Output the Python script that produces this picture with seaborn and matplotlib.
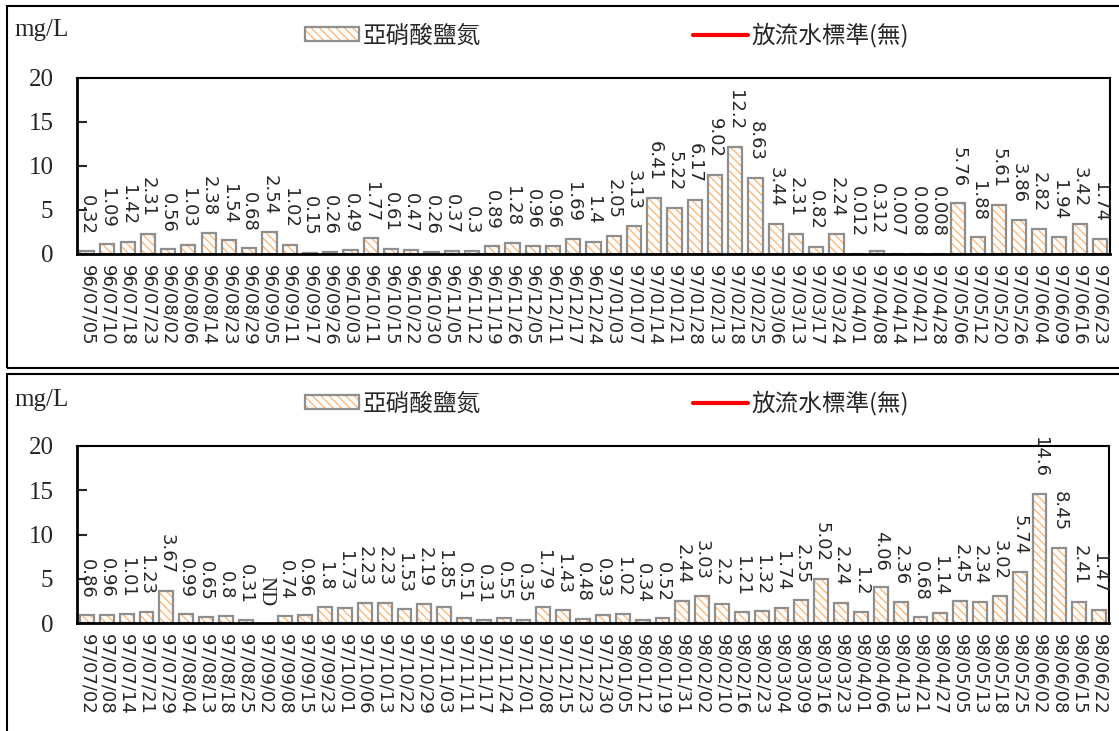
import numpy as np
import pandas as pd
import matplotlib.pyplot as plt
import seaborn as sns
from matplotlib.patches import Patch, Rectangle
from matplotlib.lines import Line2D
from matplotlib.font_manager import FontProperties

# data
dates_top = ["96/07/05", "96/07/10", "96/07/18", "96/07/23", "96/08/02", "96/08/06", "96/08/14",
             "96/08/23", "96/08/29", "96/09/05", "96/09/11", "96/09/17", "96/09/26", "96/10/03",
             "96/10/11", "96/10/15", "96/10/22", "96/10/30", "96/11/05", "96/11/12", "96/11/19",
             "96/11/26", "96/12/05", "96/12/11", "96/12/17", "96/12/24", "97/01/03", "97/01/07",
             "97/01/14", "97/01/21", "97/01/28", "97/02/13", "97/02/18", "97/02/25", "97/03/06",
             "97/03/13", "97/03/17", "97/03/24", "97/04/01", "97/04/08", "97/04/14", "97/04/21",
             "97/04/28", "97/05/06", "97/05/12", "97/05/20", "97/05/26", "97/06/04", "97/06/09",
             "97/06/16", "97/06/23"]
values_top = [0.32, 1.09, 1.42, 2.31, 0.56, 1.03, 2.38,
              1.54, 0.68, 2.54, 1.02, 0.15, 0.26, 0.49,
              1.77, 0.61, 0.47, 0.26, 0.37, 0.3, 0.89,
              1.28, 0.96, 0.96, 1.69, 1.4, 2.05, 3.13,
              6.41, 5.22, 6.17, 9.02, 12.2, 8.63, 3.44,
              2.31, 0.82, 2.24, 0.012, 0.312, 0.007, 0.008,
              0.008, 5.76, 1.88, 5.61, 3.86, 2.82, 1.94,
              3.42, 1.74]

dates_bottom = ["97/07/02", "97/07/08", "97/07/14", "97/07/21", "97/07/29", "97/08/04", "97/08/13",
                "97/08/18", "97/08/25", "97/09/02", "97/09/08", "97/09/15", "97/09/23", "97/10/01",
                "97/10/06", "97/10/13", "97/10/22", "97/10/29", "97/11/03", "97/11/11", "97/11/17",
                "97/11/24", "97/12/01", "97/12/08", "97/12/15", "97/12/23", "97/12/30", "98/01/05",
                "98/01/12", "98/01/19", "98/01/31", "98/02/02", "98/02/10", "98/02/16", "98/02/23",
                "98/03/04", "98/03/09", "98/03/16", "98/03/23", "98/04/01", "98/04/06", "98/04/13",
                "98/04/21", "98/04/27", "98/05/05", "98/05/13", "98/05/18", "98/05/25", "98/06/02",
                "98/06/08", "98/06/15", "98/06/22"]
values_bottom = [0.86, 0.96, 1.01, 1.23, 3.67, 0.99, 0.65,
                 0.8, 0.31, np.nan, 0.74, 0.96, 1.8, 1.73,
                 2.23, 2.23, 1.53, 2.19, 1.85, 0.51, 0.31,
                 0.55, 0.35, 1.79, 1.43, 0.48, 0.93, 1.02,
                 0.34, 0.52, 2.44, 3.03, 2.2, 1.21, 1.32,
                 1.74, 2.55, 5.02, 2.24, 1.2, 4.06, 2.36,
                 0.68, 1.14, 2.45, 2.34, 3.02, 5.74, 14.6,
                 8.45, 2.41, 1.47]

series_name = "亞硝酸鹽氮"
standard_name = "放流水標準(無)"
y_ticks = [0, 5, 10, 15, 20]

HATCH_COLOR = "#FFB877"
EDGE_COLOR = "#8f8f8f"
HATCH = "\\\\\\\\"

sns.set_style("white")
plt.rcParams["font.family"] = ["DejaVu Sans"]
plt.rcParams["hatch.linewidth"] = 1.0

fig = plt.figure(figsize=(11.19, 7.31), dpi=100)
W, H = 1119, 731


def fig_box(left, top, right, bottom):
    # pixel box -> figure fraction rect
    return [left / W, 1 - bottom / H, (right - left) / W, (bottom - top) / H]


def draw_panel(ax, dates, values):
    df = pd.DataFrame({"date": dates, "value": values})
    sns.barplot(data=df, x="date", y="value", order=dates, ax=ax, color="white",
                saturation=1, edgecolor=HATCH_COLOR, linewidth=0, width=0.7,
                hatch=HATCH, errorbar=None)
    # grey outline on top of the hatched bars
    for p in list(ax.patches):
        ax.add_patch(Rectangle(p.get_xy(), p.get_width(), p.get_height(),
                               fill=False, edgecolor=EDGE_COLOR, lw=1.6))

    # value labels
    for i, v in enumerate(values):
        if np.isnan(v):
            ax.annotate("ND", (i, 0), xytext=(0, 12), textcoords="offset points",
                        rotation=270, ha="center", va="bottom", fontsize=15,
                        family="Liberation Serif", annotation_clip=False)
        else:
            ax.annotate(f"{v:g}", (i, v), xytext=(0, 12), textcoords="offset points",
                        rotation=270, ha="center", va="bottom", fontsize=13,
                        annotation_clip=False)

    ax.set_xlim(-0.5, len(dates) - 0.5)
    ax.set_ylim(0, 20)
    ax.set_yticks(y_ticks)
    ax.set_xlabel("")
    ax.set_ylabel("")
    ax.tick_params(axis="x", rotation=270, length=0, pad=8, labelsize=13)
    ax.tick_params(axis="y", direction="in", length=7, width=1.5, pad=17,
                   labelsize=18, left=True)
    for lab in ax.get_yticklabels():
        lab.set_fontfamily("Liberation Serif")
    for side in ["left", "bottom", "top", "right"]:
        ax.spines[side].set_visible(True)
        ax.spines[side].set_color("black")
    ax.spines["left"].set_linewidth(2)
    ax.spines["bottom"].set_linewidth(2)
    ax.spines["top"].set_linewidth(1.5)
    ax.spines["right"].set_linewidth(1.5)


ax_top = fig.add_axes(fig_box(77, 78, 1110, 254))
ax_bottom = fig.add_axes(fig_box(77, 446, 1109, 623))
draw_panel(ax_top, dates_top, values_top)
draw_panel(ax_bottom, dates_bottom, values_bottom)

# outer frames around each panel
fig.patches.append(Rectangle((7 / W, 1 - 368 / H), 1.0, 362 / H, transform=fig.transFigure,
                             fill=False, edgecolor="black", lw=1.5))
fig.patches.append(Rectangle((7 / W, -0.05), 1.0, 1 - 374 / H + 0.05, transform=fig.transFigure,
                             fill=False, edgecolor="black", lw=1.5))

legend_handles = [
    (Patch(facecolor="white", edgecolor=HATCH_COLOR, hatch=HATCH, lw=0),
     Patch(fill=False, edgecolor=EDGE_COLOR, lw=1.6)),
    Line2D([0], [0], color="red", lw=3),
]
cjk = FontProperties(family=["Noto Sans CJK TC", "DejaVu Sans"], size=17)

for y_unit, y_leg in [(30, 35), (400, 403)]:
    fig.text(14 / W, 1 - y_unit / H, "mg/L", family="Liberation Serif", fontsize=18,
             ha="left", va="center")
    leg = fig.legend(legend_handles, [series_name, standard_name], ncol=2,
                     loc="center left", bbox_to_anchor=(305 / W, 1 - y_leg / H),
                     frameon=False, prop=cjk, handlelength=2.3, handleheight=0.55,
                     handletextpad=0.15, columnspacing=9.0, borderpad=0, borderaxespad=0)

fig.savefig("out.png", dpi=100)
